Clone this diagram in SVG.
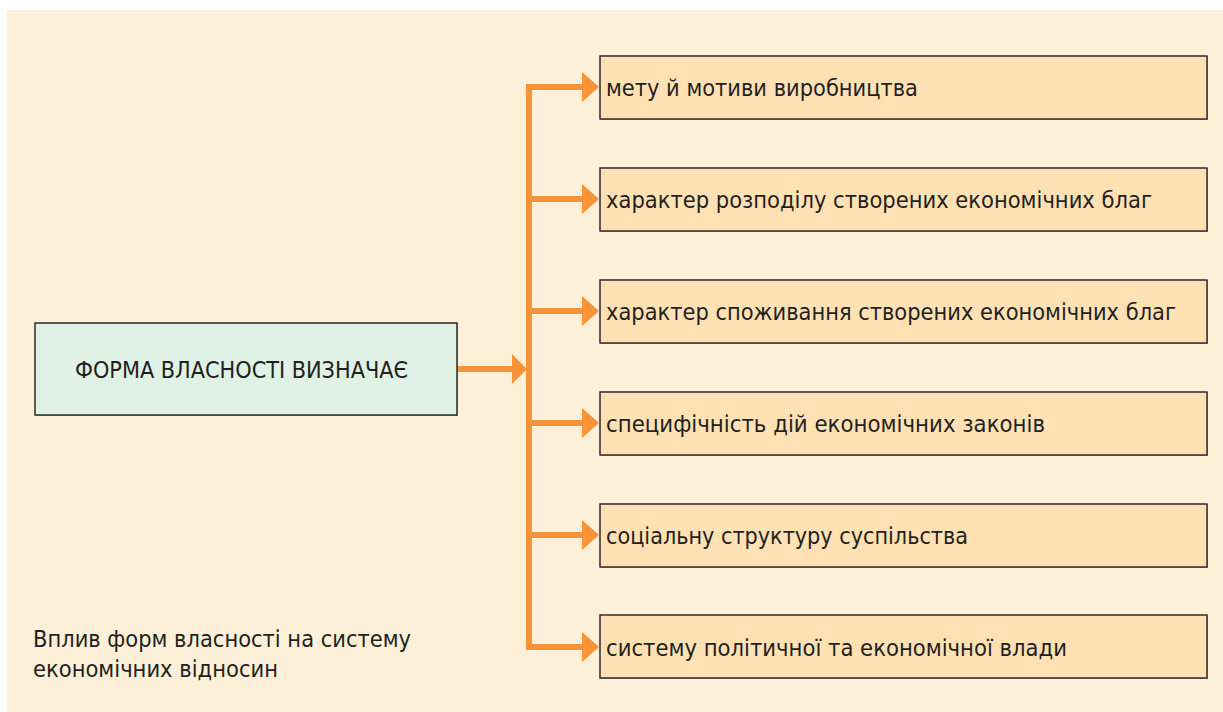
<svg xmlns="http://www.w3.org/2000/svg" width="1223" height="712" viewBox="0 0 1223 712">
<defs>
<style>
.t{font-family:"DejaVu Sans Condensed","DejaVu Sans","Liberation Sans",sans-serif;font-stretch:condensed;font-size:23px;fill:#231f20;}
.box{fill:#FFE1B3;stroke:#2b2b2b;stroke-width:1.5;}
.shadow{fill:#bfae98;}
.conn{stroke:#F7943A;stroke-width:6;fill:none;}
.head{fill:#F7943A;}
</style>
</defs>
<rect x="0" y="0" width="1223" height="712" fill="#ffffff"/>
<rect x="7" y="10" width="1216" height="702" fill="#FEEFD8"/>

<g id="connectors">
<line class="conn" x1="529" y1="87" x2="529" y2="647"/>
<line class="conn" x1="457" y1="369" x2="513" y2="369"/>
<polygon class="head" points="512,354 527,369 512,384"/>
<line class="conn" x1="526" y1="87" x2="583" y2="87"/>
<polygon class="head" points="582,72 599,87 582,102"/>
<line class="conn" x1="526" y1="199" x2="583" y2="199"/>
<polygon class="head" points="582,184 599,199 582,214"/>
<line class="conn" x1="526" y1="311" x2="583" y2="311"/>
<polygon class="head" points="582,296 599,311 582,326"/>
<line class="conn" x1="526" y1="423" x2="583" y2="423"/>
<polygon class="head" points="582,408 599,423 582,438"/>
<line class="conn" x1="526" y1="535" x2="583" y2="535"/>
<polygon class="head" points="582,520 599,535 582,550"/>
<line class="conn" x1="526" y1="647" x2="583" y2="647"/>
<polygon class="head" points="582,632 599,647 582,662"/>
</g>

<g id="source">
<rect x="36" y="324" width="422" height="92" class="shadow"/>
<rect x="35" y="323" width="422" height="92" fill="#E0F1E5" stroke="#2b2b2b" stroke-width="1.5"/>
<text class="t" x="75" y="378" textLength="333" lengthAdjust="spacingAndGlyphs">ФОРМА ВЛАСНОСТІ ВИЗНАЧАЄ</text>
</g>

<g id="n1">
<rect x="601" y="57" width="607" height="63" class="shadow"/>
<rect x="600" y="56" width="607" height="63" class="box"/>
<text class="t" x="606" y="96" textLength="312" lengthAdjust="spacingAndGlyphs">мету й мотиви виробництва</text>
</g>
<g id="n2">
<rect x="601" y="169" width="607" height="63" class="shadow"/>
<rect x="600" y="168" width="607" height="63" class="box"/>
<text class="t" x="606" y="208" textLength="546" lengthAdjust="spacingAndGlyphs">характер розподілу створених економічних благ</text>
</g>
<g id="n3">
<rect x="601" y="281" width="607" height="63" class="shadow"/>
<rect x="600" y="280" width="607" height="63" class="box"/>
<text class="t" x="606" y="320" textLength="570" lengthAdjust="spacingAndGlyphs">характер споживання створених економічних благ</text>
</g>
<g id="n4">
<rect x="601" y="393" width="607" height="63" class="shadow"/>
<rect x="600" y="392" width="607" height="63" class="box"/>
<text class="t" x="606" y="432" textLength="439" lengthAdjust="spacingAndGlyphs">специфічність дій економічних законів</text>
</g>
<g id="n5">
<rect x="601" y="505" width="607" height="63" class="shadow"/>
<rect x="600" y="504" width="607" height="63" class="box"/>
<text class="t" x="606" y="544" textLength="362" lengthAdjust="spacingAndGlyphs">соціальну структуру суспільства</text>
</g>
<g id="n6">
<rect x="601" y="616" width="607" height="63" class="shadow"/>
<rect x="600" y="615" width="607" height="63" class="box"/>
<text class="t" x="606" y="656" textLength="461" lengthAdjust="spacingAndGlyphs">систему політичної та економічної влади</text>
</g>

<g id="caption">
<text class="t" x="33" y="647" textLength="378" lengthAdjust="spacingAndGlyphs">Вплив форм власності на систему</text>
<text class="t" x="33" y="677" textLength="245" lengthAdjust="spacingAndGlyphs">економічних відносин</text>
</g>
</svg>
